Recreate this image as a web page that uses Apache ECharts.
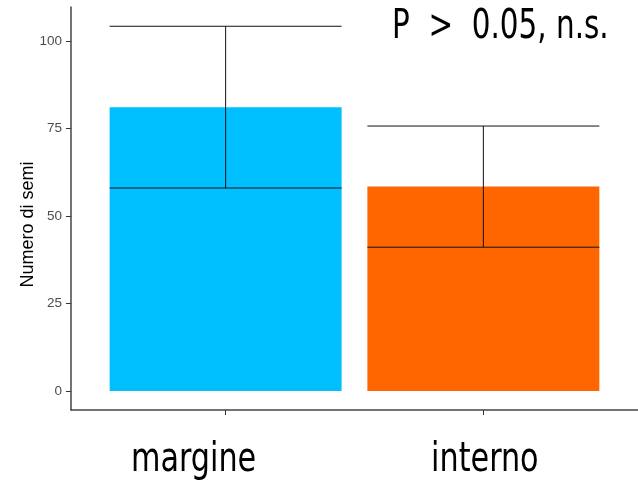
<!DOCTYPE html>
<html>
<head>
<meta charset="utf-8">
<script src="https://cdn.jsdelivr.net/npm/echarts@6/dist/echarts.min.js"></script>
<style>
html,body{margin:0;padding:0;background:#fff;}
#chart{width:638px;height:483px;}
</style>
</head>
<body>
<div id="chart"></div>
<script>
var categories = ['margine', 'interno'];
var means = [81.1, 58.4];
var lowerBounds = [58.0, 41.1];
var upperBounds = [104.2, 75.7];
var barColors = ['#00BFFF', '#FF6600'];
var yTicks = [0, 25, 50, 75, 100];
var annotation = 'P  >  0.05, n.s.';

var positions = categories.map(function (c, i) { return i + 1; });
var seriesData = categories.map(function (c, i) {
  return [positions[i], means[i], lowerBounds[i], upperBounds[i], i];
});

var bigFont = "'Liberation Sans Narrow','DejaVu Sans Condensed',sans-serif";
var half = 0.45;
var chart = echarts.init(document.getElementById('chart'), null, {renderer: 'canvas'});
chart.setOption({
  animation: false,
  backgroundColor: '#fff',
  grid: {left: 71, right: 0, top: 7, bottom: 73, containLabel: false},
  xAxis: {
    type: 'value', min: 0.4, max: 2.6,
    splitLine: {show: false},
    axisLine: {show: true, onZero: false, lineStyle: {color: '#444', width: 1.5}},
    axisTick: {show: true, customValues: positions, length: 5, lineStyle: {color: '#333'}},
    axisLabel: {show: false, customValues: positions}
  },
  yAxis: {
    type: 'value', min: -5.4, max: 109.7,
    splitLine: {show: false},
    axisLine: {show: true, onZero: false, lineStyle: {color: '#444', width: 1.5}},
    axisTick: {show: true, customValues: yTicks, length: 5, lineStyle: {color: '#333'}},
    axisLabel: {
      customValues: yTicks, margin: 9,
      fontFamily: "'Liberation Sans',Arial,sans-serif", fontSize: 13.5, color: '#4D4D4D'
    }
  },
  series: [{
    type: 'custom',
    data: seriesData,
    encode: {x: 0, y: [1, 2, 3]},
    renderItem: function (params, api) {
      var x = api.value(0), m = api.value(1), lo = api.value(2), hi = api.value(3);
      var idx = api.value(4);
      var pl = api.coord([x - half, m]);
      var pr = api.coord([x + half, 0]);
      var pLoL = api.coord([x - half, lo]);
      var pLoR = api.coord([x + half, lo]);
      var pHiL = api.coord([x - half, hi]);
      var pHiR = api.coord([x + half, hi]);
      var pc1 = api.coord([x, lo]);
      var pc2 = api.coord([x, hi]);
      var ls = {stroke: '#111', lineWidth: 1};
      return {
        type: 'group',
        children: [
          {type: 'rect', shape: {x: pl[0], y: pl[1], width: pr[0] - pl[0], height: pr[1] - pl[1]},
            style: {fill: barColors[idx]}},
          {type: 'line', shape: {x1: pHiL[0], y1: pHiL[1], x2: pHiR[0], y2: pHiR[1]}, style: ls},
          {type: 'line', shape: {x1: pLoL[0], y1: pLoL[1], x2: pLoR[0], y2: pLoR[1]}, style: ls},
          {type: 'line', shape: {x1: pc1[0], y1: pc1[1], x2: pc2[0], y2: pc2[1]}, style: ls}
        ]
      };
    }
  }]
});

// Category labels placed at the axis positions (via the chart's scale), with the reference's nudges
var labelNudge = [-32, 1.5];
var graphics = categories.map(function (c, i) {
  var p = chart.convertToPixel({gridIndex: 0}, [positions[i], 0]);
  var bottomY = chart.convertToPixel({gridIndex: 0}, [positions[i], -5.4])[1];
  return {
    type: 'text', x: p[0] + labelNudge[i], y: bottomY + 31, scaleX: 0.84,
    style: {text: c, fontFamily: bigFont, fontSize: 40, fill: '#000', align: 'center', verticalAlign: 'top'}
  };
});
graphics.push({
  type: 'text', x: 392, y: 8, scaleX: 0.818,
  style: {text: annotation, fontFamily: bigFont, fontSize: 40, fill: '#000', align: 'left', verticalAlign: 'top'}
});
graphics.push({
  type: 'text', x: 28, y: 224.5, rotation: Math.PI / 2,
  style: {text: 'Numero di semi', fontFamily: "'Liberation Sans',Arial,sans-serif",
    fontSize: 18, fill: '#000', align: 'center', verticalAlign: 'middle'}
});
chart.setOption({graphic: graphics});
</script>
</body>
</html>
